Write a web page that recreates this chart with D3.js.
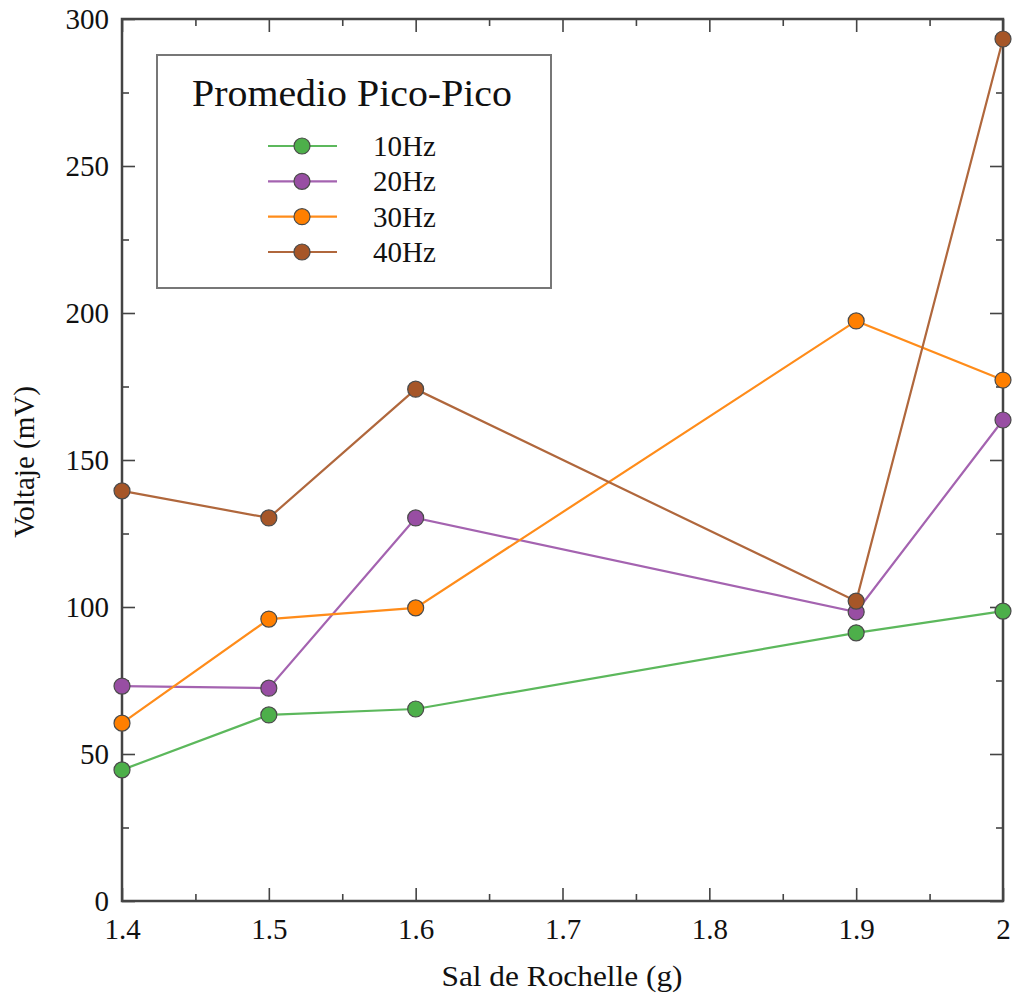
<!DOCTYPE html>
<html>
<head>
<meta charset="utf-8">
<script src="https://cdn.jsdelivr.net/npm/d3@7"></script>
<style>
  html, body { margin: 0; padding: 0; background: #fff; }
  svg { display: block; }
  text { font-family: "Liberation Serif", "Times New Roman", serif; fill: #111; }
</style>
</head>
<body>
<svg id="chart" width="1013" height="995"></svg>
<script>
const xValues = [1.4, 1.5, 1.6, 1.9, 2.0];
const seriesNames = ["10Hz", "20Hz", "30Hz", "40Hz"];
const values10 = [44.6, 63.3, 65.3, 91.2, 98.6];
const values20 = [73.1, 72.4, 130.3, 98.3, 163.6];
const values30 = [60.5, 95.9, 99.7, 197.3, 177.2];
const values40 = [139.5, 130.3, 174.1, 102.0, 293.2];
const seriesColors = ["#4daf4a", "#984ea3", "#ff7f00", "#a65628"];
const lineColors = ["#5cb85c", "#a463b0", "#ff8c1a", "#b0673c"];
const xMajorTicks = [1.4, 1.5, 1.6, 1.7, 1.8, 1.9, 2.0];
const xMinorTicks = [1.45, 1.55, 1.65, 1.75, 1.85, 1.95];
const yMajorTicks = [0, 50, 100, 150, 200, 250, 300];
const yMinorTicks = [25, 75, 125, 175, 225, 275];
const legendTitle = "Promedio Pico-Pico";
const xTitle = "Sal de Rochelle (g)";
const yTitle = "Voltaje (mV)";

const allValues = [values10, values20, values30, values40];

const svg = d3.select("#chart");
const L = 122, R = 1003, T = 19, B = 901;
const x = d3.scaleLinear().domain([1.4, 2.0]).range([L, R]);
const y = d3.scaleLinear().domain([0, 300]).range([B, T]);

const axisColor = "#444";
const fmtX = d => (d === 2 ? "2" : d3.format(".1f")(d));

function styleAxis(g) {
  g.selectAll(".domain").remove();
  g.selectAll(".tick line").attr("stroke", axisColor).attr("stroke-width", 1.6);
}

// Bottom axis (major with labels)
svg.append("g").attr("transform", `translate(0,${B})`)
  .call(d3.axisBottom(x).tickValues(xMajorTicks).tickSizeInner(-13).tickSizeOuter(0).tickPadding(17).tickFormat(fmtX))
  .call(styleAxis)
  .call(g => g.selectAll("text").attr("font-size", 29).attr("fill", "#111")
    .style("font-family", '"Liberation Serif", "Times New Roman", serif'));
svg.append("g").attr("transform", `translate(0,${B})`)
  .call(d3.axisBottom(x).tickValues(xMinorTicks).tickSizeInner(-7).tickSizeOuter(0).tickFormat(""))
  .call(styleAxis);
// Top axis
svg.append("g").attr("transform", `translate(0,${T})`)
  .call(d3.axisTop(x).tickValues(xMajorTicks).tickSizeInner(-13).tickSizeOuter(0).tickFormat(""))
  .call(styleAxis);
svg.append("g").attr("transform", `translate(0,${T})`)
  .call(d3.axisTop(x).tickValues(xMinorTicks).tickSizeInner(-7).tickSizeOuter(0).tickFormat(""))
  .call(styleAxis);
// Left axis
svg.append("g").attr("transform", `translate(${L},0)`)
  .call(d3.axisLeft(y).tickValues(yMajorTicks).tickSizeInner(-13).tickSizeOuter(0).tickPadding(13).tickFormat(d3.format("d")))
  .call(styleAxis)
  .call(g => g.selectAll("text").attr("font-size", 29).attr("fill", "#111")
    .style("font-family", '"Liberation Serif", "Times New Roman", serif'));
svg.append("g").attr("transform", `translate(${L},0)`)
  .call(d3.axisLeft(y).tickValues(yMinorTicks).tickSizeInner(-7).tickSizeOuter(0).tickFormat(""))
  .call(styleAxis);
// Right axis
svg.append("g").attr("transform", `translate(${R},0)`)
  .call(d3.axisRight(y).tickValues(yMajorTicks).tickSizeInner(-13).tickSizeOuter(0).tickFormat(""))
  .call(styleAxis);
svg.append("g").attr("transform", `translate(${R},0)`)
  .call(d3.axisRight(y).tickValues(yMinorTicks).tickSizeInner(-7).tickSizeOuter(0).tickFormat(""))
  .call(styleAxis);

// Frame
svg.append("rect").attr("x", L).attr("y", T).attr("width", R - L).attr("height", B - T)
  .attr("fill", "none").attr("stroke", axisColor).attr("stroke-width", 2.5);

// Lines and markers
const line = d3.line().x((d, i) => x(xValues[i])).y(d => y(d));
allValues.forEach((vals, si) => {
  svg.append("path").datum(vals).attr("d", line)
    .attr("fill", "none").attr("stroke", lineColors[si]).attr("stroke-width", 2.2);
});
allValues.forEach((vals, si) => {
  svg.append("g").selectAll("circle").data(vals).join("circle")
    .attr("cx", (d, i) => x(xValues[i])).attr("cy", d => y(d)).attr("r", 8)
    .attr("fill", seriesColors[si]).attr("stroke", "#4a4a4a").attr("stroke-width", 1.2);
});

// Legend
const lg = svg.append("g");
lg.append("rect").attr("x", 157).attr("y", 55).attr("width", 394).attr("height", 233)
  .attr("fill", "#fff").attr("stroke", "#777").attr("stroke-width", 2);
lg.append("text").attr("x", 352).attr("y", 106).attr("text-anchor", "middle")
  .attr("font-size", 37).attr("textLength", 320).attr("lengthAdjust", "spacingAndGlyphs")
  .text(legendTitle);
const rowY = d3.scaleLinear().domain([0, 3]).range([146, 252]);
seriesNames.forEach((name, i) => {
  const cy = rowY(i);
  lg.append("line").attr("x1", 268).attr("x2", 337).attr("y1", cy).attr("y2", cy)
    .attr("stroke", lineColors[i]).attr("stroke-width", 2.2);
  lg.append("circle").attr("cx", 302).attr("cy", cy).attr("r", 8)
    .attr("fill", seriesColors[i]).attr("stroke", "#4a4a4a").attr("stroke-width", 1.2);
  lg.append("text").attr("x", 373).attr("y", cy + 10).attr("font-size", 29).text(name);
});

// Axis titles
svg.append("text").attr("x", 562).attr("y", 986).attr("text-anchor", "middle")
  .attr("font-size", 29).attr("textLength", 241).attr("lengthAdjust", "spacingAndGlyphs")
  .text(xTitle);
svg.append("text").attr("transform", "translate(34,462) rotate(-90)").attr("text-anchor", "middle")
  .attr("font-size", 29).text(yTitle);
</script>
</body>
</html>
